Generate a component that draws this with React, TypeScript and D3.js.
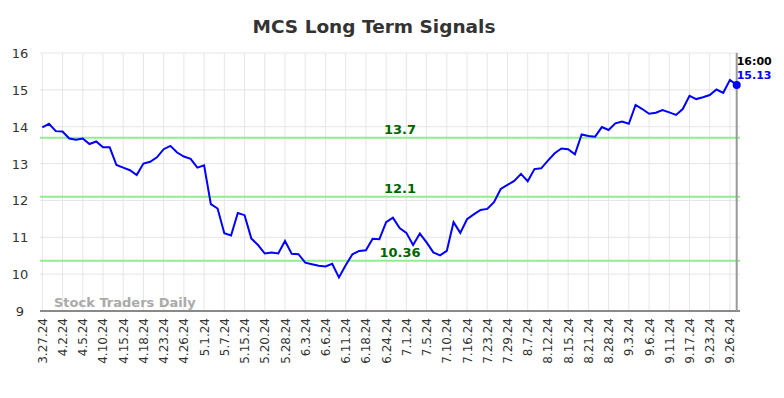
import { useEffect } from "react";
import { scaleLinear, line } from "d3";

const values = [
  13.98, 14.08, 13.88, 13.87, 13.68, 13.65, 13.68, 13.53, 13.6, 13.44,
  13.44, 12.96, 12.89, 12.82, 12.69, 13.0, 13.05, 13.17, 13.39, 13.48,
  13.3, 13.19, 13.13, 12.89, 12.95, 11.9, 11.78, 11.11, 11.05, 11.66,
  11.6, 10.97, 10.79, 10.56, 10.59, 10.56, 10.9, 10.55, 10.54, 10.31,
  10.27, 10.23, 10.21, 10.28, 9.91, 10.24, 10.54, 10.63, 10.65, 10.96,
  10.95, 11.41, 11.53, 11.25, 11.12, 10.79, 11.1, 10.86, 10.59, 10.51,
  10.63, 11.41, 11.12, 11.49, 11.62, 11.74, 11.77, 11.95, 12.31, 12.42,
  12.53, 12.72, 12.52, 12.85, 12.87, 13.08, 13.28, 13.41, 13.39, 13.25,
  13.79, 13.75, 13.73, 13.99, 13.91, 14.09, 14.14, 14.08, 14.59, 14.48,
  14.35, 14.38, 14.45, 14.39, 14.32, 14.48, 14.84, 14.75, 14.8, 14.86,
  15.01, 14.92, 15.27, 15.13,
];

const dateLabels = [
  "3.27.24", "4.2.24", "4.5.24", "4.10.24", "4.15.24", "4.18.24", "4.23.24",
  "4.26.24", "5.1.24", "5.7.24", "5.15.24", "5.20.24", "5.28.24", "6.3.24",
  "6.6.24", "6.11.24", "6.18.24", "6.24.24", "7.1.24", "7.5.24", "7.10.24",
  "7.16.24", "7.23.24", "7.29.24", "8.7.24", "8.12.24", "8.15.24", "8.21.24",
  "8.28.24", "9.3.24", "9.6.24", "9.11.24", "9.17.24", "9.23.24", "9.26.24",
];

const yTicks = [9, 10, 11, 12, 13, 14, 15, 16];
const signals = [13.7, 12.1, 10.36];
const lastTime = "16:00";

const width = 784;
const height = 398;
const plotLeft = 40;
const plotRight = 740;

export default function App() {
  useEffect(() => {
    document.body.style.margin = "0";
  }, []);

  const x = scaleLinear().domain([0, values.length - 1]).range([42.3, 736.7]);
  const y = scaleLinear().domain([9, 16]).range([311, 53]);

  const path = line<number>()
    .x((_, i) => x(i))
    .y((d) => y(d))(values);

  const last = values.length - 1;
  const font = "'DejaVu Sans', sans-serif";

  return (
    <svg width={width} height={height} style={{ display: "block" }} fontFamily={font}>
      <rect width={width} height={height} fill="#fff" />
      <text x={374} y={33} textAnchor="middle" fontSize={18.5} fontWeight="bold" fill="#333">
        MCS Long Term Signals
      </text>

      {/* grid */}
      {yTicks.map((t) => (
        <line key={t} x1={plotLeft} x2={plotRight} y1={y(t)} y2={y(t)} stroke="#e6e6e6" />
      ))}
      {dateLabels.map((d, k) => (
        <line key={d} x1={x(k * 3)} x2={x(k * 3)} y1={53} y2={311} stroke="#e6e6e6" />
      ))}

      {/* y labels */}
      {yTicks.map((t) => (
        <text key={t} x={20} y={y(t) + 5} textAnchor="middle" fontSize={13} fill="#333">
          {t}
        </text>
      ))}

      {/* x labels */}
      {dateLabels.map((d, k) => (
        <text
          key={d}
          transform={`translate(${x(k * 3) + 4.5},318) rotate(-90)`}
          textAnchor="end"
          fontSize={12}
          fill="#333"
        >
          {d}
        </text>
      ))}

      {/* signal lines */}
      {signals.map((s) => (
        <g key={s}>
          <line x1={plotLeft} x2={plotRight} y1={y(s)} y2={y(s)} stroke="#90ee90" strokeWidth={2} />
          <text x={400} y={y(s) - 4} textAnchor="middle" fontSize={13} fontWeight="bold" fill="#006400">
            {s}
          </text>
        </g>
      ))}

      <text x={54} y={307} fontSize={13} fontWeight="bold" fill="#aaa">
        Stock Traders Daily
      </text>

      <line x1={plotLeft} x2={plotRight} y1={311} y2={311} stroke="#666" strokeWidth={1.5} />
      <line x1={x(last)} x2={x(last)} y1={53} y2={311} stroke="#999" strokeWidth={2} />

      <path d={path ?? ""} fill="none" stroke="#0000ff" strokeWidth={2} />
      <circle cx={x(last)} cy={y(values[last])} r={4} fill="#0000ff" />

      <text x={x(last)} y={65} fontSize={11} fontWeight="bold" fill="#000">
        {lastTime}
      </text>
      <text x={x(last)} y={79} fontSize={11} fontWeight="bold" fill="#0000ff">
        {values[last]}
      </text>
    </svg>
  );
}
